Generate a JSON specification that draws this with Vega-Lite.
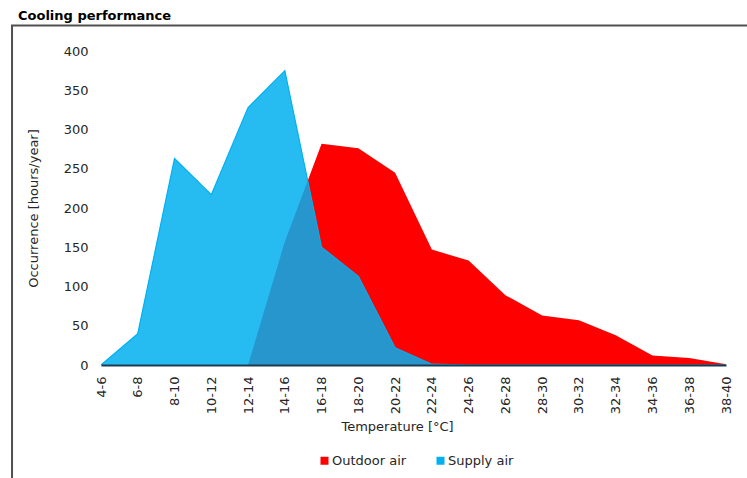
{
  "$schema": "https://vega.github.io/schema/vega-lite/v6.json",
  "width": 625,
  "height": 314,
  "autosize": {"type": "none"},
  "padding": {"left": 101, "top": 51, "right": 21, "bottom": 113},
  "background": "white",
  "title": {
    "text": "Cooling performance",
    "anchor": "start",
    "frame": "group",
    "dx": -83,
    "offset": 1,
    "font": "DejaVu Sans",
    "fontSize": 13,
    "fontWeight": "bold",
    "color": "#000000"
  },
  "config": {
    "view": {"stroke": null},
    "font": "DejaVu Sans",
    "axis": {"labelFont": "DejaVu Sans", "titleFont": "DejaVu Sans", "labelFontSize": 13, "titleFontSize": 13, "labelColor": "#262626", "titleColor": "#262626", "titleFontWeight": "normal"},
    "legend": {"labelFont": "DejaVu Sans", "labelFontSize": 13, "labelColor": "#262626"}
  },
  "datasets": {
    "occ": [
      {"temp": 4, "series": "Outdoor air", "hours": 0},
      {"temp": 6, "series": "Outdoor air", "hours": 0},
      {"temp": 8, "series": "Outdoor air", "hours": 0},
      {"temp": 10, "series": "Outdoor air", "hours": 0},
      {"temp": 12, "series": "Outdoor air", "hours": 0},
      {"temp": 14, "series": "Outdoor air", "hours": 157},
      {"temp": 16, "series": "Outdoor air", "hours": 282},
      {"temp": 18, "series": "Outdoor air", "hours": 276},
      {"temp": 20, "series": "Outdoor air", "hours": 245},
      {"temp": 22, "series": "Outdoor air", "hours": 147},
      {"temp": 24, "series": "Outdoor air", "hours": 133},
      {"temp": 26, "series": "Outdoor air", "hours": 89},
      {"temp": 28, "series": "Outdoor air", "hours": 63},
      {"temp": 30, "series": "Outdoor air", "hours": 57},
      {"temp": 32, "series": "Outdoor air", "hours": 38},
      {"temp": 34, "series": "Outdoor air", "hours": 12},
      {"temp": 36, "series": "Outdoor air", "hours": 9},
      {"temp": 38, "series": "Outdoor air", "hours": 1},
      {"temp": 4, "series": "Supply air", "hours": 0},
      {"temp": 6, "series": "Supply air", "hours": 40},
      {"temp": 8, "series": "Supply air", "hours": 263},
      {"temp": 10, "series": "Supply air", "hours": 217},
      {"temp": 12, "series": "Supply air", "hours": 328},
      {"temp": 14, "series": "Supply air", "hours": 375},
      {"temp": 16, "series": "Supply air", "hours": 150},
      {"temp": 18, "series": "Supply air", "hours": 113},
      {"temp": 20, "series": "Supply air", "hours": 22},
      {"temp": 22, "series": "Supply air", "hours": 1},
      {"temp": 24, "series": "Supply air", "hours": 0},
      {"temp": 26, "series": "Supply air", "hours": 0},
      {"temp": 28, "series": "Supply air", "hours": 0},
      {"temp": 30, "series": "Supply air", "hours": 0},
      {"temp": 32, "series": "Supply air", "hours": 0},
      {"temp": 34, "series": "Supply air", "hours": 0},
      {"temp": 36, "series": "Supply air", "hours": 0},
      {"temp": 38, "series": "Supply air", "hours": 0}
    ]
  },
  "layer": [
    {
      "data": {"values": [{}]},
      "mark": {"type": "rect", "fill": null, "stroke": "#505050", "strokeWidth": 2, "clip": false},
      "encoding": {
        "x": {"datum": -0.84, "type": "quantitative"},
        "x2": {"datum": 41},
        "y": {"datum": 432.5, "type": "quantitative"},
        "y2": {"datum": -150}
      }
    },
    {
      "data": {"name": "occ"},
      "transform": [{"filter": "datum.series == 'Outdoor air'"}],
      "mark": {"type": "area", "opacity": 1},
      "encoding": {
        "x": {"field": "temp", "type": "quantitative"},
        "y": {"field": "hours", "type": "quantitative"},
        "color": {"field": "series", "type": "nominal"}
      }
    },
    {
      "data": {"name": "occ"},
      "transform": [{"filter": "datum.series == 'Supply air'"}],
      "mark": {"type": "area", "opacity": 0.85, "line": {"strokeWidth": 1.2, "opacity": 1}},
      "encoding": {
        "x": {"field": "temp", "type": "quantitative"},
        "y": {"field": "hours", "type": "quantitative"},
        "color": {"field": "series", "type": "nominal"}
      }
    }
  ],
  "resolve": {"scale": {"x": "shared", "y": "shared", "color": "shared"}},
  "encoding": {
    "x": {
      "type": "quantitative",
      "scale": {"domain": [4, 38], "nice": false, "zero": false},
      "axis": {
        "title": "Temperature [°C]",
        "values": [4, 6, 8, 10, 12, 14, 16, 18, 20, 22, 24, 26, 28, 30, 32, 34, 36, 38],
        "labelExpr": "datum.value + '-' + (datum.value + 2)",
        "labelAngle": -90,
        "labelPadding": 11,
        "labelFlush": false,
        "labelOverlap": false,
        "ticks": false,
        "tickSize": 0,
        "grid": false,
        "domainColor": "#1F3A4F",
        "domainWidth": 2,
        "titlePadding": 7,
        "titleX": 296,
        "zindex": 1
      }
    },
    "y": {
      "type": "quantitative",
      "scale": {"domain": [0, 400], "nice": false},
      "axis": {
        "title": "Occurrence [hours/year]",
        "values": [0, 50, 100, 150, 200, 250, 300, 350, 400],
        "domain": false,
        "ticks": false,
        "tickSize": 0,
        "labelPadding": 13,
        "gridColor": "#D9D9D9",
        "gridWidth": 1.5,
        "titlePadding": 23
      }
    },
    "color": {
      "type": "nominal",
      "scale": {"domain": ["Outdoor air", "Supply air"], "range": ["#FF0000", "#00B0F0"]},
      "legend": {
        "title": null,
        "orient": "none",
        "direction": "horizontal",
        "legendX": 217,
        "legendY": 403,
        "symbolType": "square",
        "symbolSize": 64,
        "symbolOpacity": 1,
        "symbolStrokeWidth": 0,
        "labelOffset": 1,
        "columnPadding": 27
      }
    }
  }
}
